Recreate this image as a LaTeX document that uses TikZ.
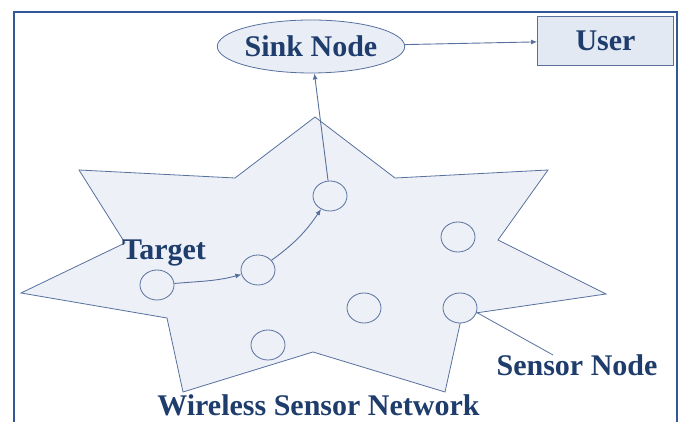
\documentclass[tikz,border=0pt]{standalone}
\usepackage{fontspec}
\setmainfont{Liberation Serif}
\usepackage{tikz}
\usetikzlibrary{arrows.meta}
\usetikzlibrary{shapes.geometric}
\usetikzlibrary{positioning}
\definecolor{textblue}{RGB}{30,60,108}
\definecolor{lineblue}{RGB}{88,112,158}
\definecolor{frameblue}{RGB}{52,88,150}
\definecolor{starfill}{RGB}{237,241,247}
\definecolor{sinkfill}{RGB}{233,238,246}
\definecolor{userfill}{RGB}{226,233,243}
\tikzset{%
	>={Latex[width=5pt,length=6pt]},
	% Specifications for style of nodes:
	base/.style = {draw=lineblue, line width=0.8pt, text=textblue,
				   font=\bfseries\fontsize{30}{35}\selectfont},
	sink/.style = {base, ellipse, fill=sinkfill, inner sep=0pt,
				   minimum width=187pt, minimum height=53pt},
	userbox/.style = {base, rectangle, fill=userfill,
					  minimum width=136pt, minimum height=49pt},
	mote/.style = {ellipse, draw=lineblue, line width=0.8pt, fill=starfill,
				   minimum width=34pt, minimum height=30pt, inner sep=0pt},
	caption/.style = {text=textblue, inner sep=0pt,
					  font=\bfseries\fontsize{30}{35}\selectfont},
	link/.style = {->, draw=lineblue, line width=0.9pt},
}

\begin{document}
\begin{tikzpicture}[x=1pt, y=1pt]
	\useasboundingbox (0,0) rectangle (686,422);

	% Outer frame
	\draw[frameblue, line width=2pt] (14,-10) rectangle (677,410);

	% The sensor field
	\draw[lineblue, line width=0.8pt, fill=starfill]
		(315,305) -- (395,244) -- (548,252) -- (498,182) -- (606,128)
		-- (462,107) -- (445,30) -- (313,70) -- (183,30) -- (167,104)
		-- (21,129) -- (125,179) -- (79,252) -- (235,244) -- cycle;

	% Specification of nodes (position, etc.)
	\node (sinkNode)	[sink] at (311,375.5)			{Sink Node};
	\node (userBox)		[userbox, right=132pt of sinkNode, yshift=6pt]	{User};

	\node (targetNode)	[mote] at (157,137) {};
	\node (hopA)		[mote] at (258,152) {};
	\node (hopB)		[mote] at (330,226) {};
	\node (moteA)		[mote] at (268,77)  {};
	\node (moteB)		[mote] at (364,114) {};
	\node (moteC)		[mote] at (458,185) {};
	\node (sensorNode)	[mote] at (460,114) {};

	\node (targetLbl)	[caption, anchor=base] at (164,162)	{Target};
	\node (sensorLbl)	[caption, anchor=base] at (577,46)	{Sensor Node};
	\node (wsnLbl)		[caption, anchor=base] at (318.5,6)	{Wireless Sensor Network};

	% Specification of lines between nodes specified above
	\draw[link] (targetNode) to[out=5, in=195] (hopA);
	\draw[link] (hopA) to[bend right=10] (hopB);
	\draw[link] (hopB) -- (sinkNode);
	\draw[link] (sinkNode) -- (userBox);
	\draw[lineblue, line width=0.8pt] (sensorNode.-15) -- ([xshift=-24pt]sensorLbl.north);

\end{tikzpicture}
\end{document}
